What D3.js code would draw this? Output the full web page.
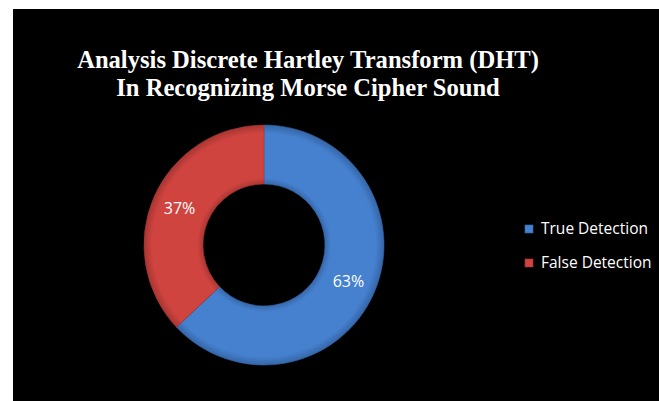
<!DOCTYPE html>
<html>
<head>
<meta charset="utf-8">
<script src="https://cdn.jsdelivr.net/npm/d3@7"></script>
<style>
  body { margin: 0; background: #fff; }
</style>
</head>
<body>
<div id="chart"></div>
<script>
var categories = ["True Detection", "False Detection"];
var values = [63, 37];
var titleLines = ["Analysis Discrete Hartley Transform (DHT)", "In Recognizing Morse Cipher Sound"];

var width = 659, height = 401;
var fills = ["#4681cf", "#d04440"];
var edges = ["#3566a8", "#a83532"];

var svg = d3.select("#chart").append("svg")
    .attr("width", width)
    .attr("height", height);

// black chart area
svg.append("rect")
    .attr("x", 13).attr("y", 9)
    .attr("width", width - 13).attr("height", height - 9)
    .attr("fill", "#000");

var defs = svg.append("defs");
// bevel look: lighter in the middle of the ring, darker at the rims
fills.forEach(function(c, i) {
  var g = defs.append("radialGradient")
      .attr("id", "bevel" + i)
      .attr("gradientUnits", "userSpaceOnUse")
      .attr("cx", 0).attr("cy", 0).attr("r", 120);
  g.append("stop").attr("offset", "50%").attr("stop-color", edges[i]);
  g.append("stop").attr("offset", "56%").attr("stop-color", c);
  g.append("stop").attr("offset", "93%").attr("stop-color", c);
  g.append("stop").attr("offset", "100%").attr("stop-color", edges[i]);
});

svg.selectAll(".title")
  .data(titleLines)
  .enter().append("text")
    .attr("class", "title")
    .attr("x", 308)
    .attr("y", function(d, i) { return 68 + i * 28; })
    .attr("text-anchor", "middle")
    .style("font-family", "'Liberation Serif', 'Times New Roman', serif")
    .style("font-weight", "bold")
    .style("font-size", "24.6px")
    .style("fill", "#fff")
    .text(function(d) { return d; });

var cx = 264, cy = 245, outerR = 120, innerR = 61;

var pie = d3.pie().sort(null).value(function(d) { return d; });
var arc = d3.arc().innerRadius(innerR).outerRadius(outerR);
var labelArc = d3.arc().innerRadius(92).outerRadius(92);

var g = svg.append("g").attr("transform", "translate(" + cx + "," + cy + ")");
var arcs = pie(values);

g.selectAll("path")
  .data(arcs)
  .enter().append("path")
    .attr("d", arc)
    .attr("fill", function(d, i) { return "url(#bevel" + i + ")"; })
    .attr("stroke", function(d, i) { return edges[i]; })
    .attr("stroke-width", 0.6);

g.selectAll(".lbl")
  .data(arcs)
  .enter().append("text")
    .attr("class", "lbl")
    .attr("transform", function(d) { return "translate(" + labelArc.centroid(d) + ")"; })
    .attr("text-anchor", "middle")
    .attr("dy", "0.35em")
    .style("font-family", "'Open Sans', 'Noto Sans', sans-serif")
    .style("font-size", "16px")
    .style("fill", "#fff")
    .text(function(d) { return d.value + "%"; });

var legend = svg.append("g").attr("transform", "translate(525,229)");
var item = legend.selectAll(".item")
  .data(categories)
  .enter().append("g")
    .attr("class", "item")
    .attr("transform", function(d, i) { return "translate(0," + i * 34 + ")"; });

item.append("rect")
    .attr("x", 0).attr("y", -4)
    .attr("width", 8).attr("height", 8)
    .attr("fill", function(d, i) { return fills[i]; })
    .attr("stroke", function(d, i) { return edges[i]; })
    .attr("stroke-width", 0.6);

item.append("text")
    .attr("x", 16)
    .attr("dy", "0.35em")
    .style("font-family", "'Open Sans', 'Noto Sans', sans-serif")
    .style("font-size", "15.5px")
    .style("fill", "#fff")
    .text(function(d) { return d; });
</script>
</body>
</html>
